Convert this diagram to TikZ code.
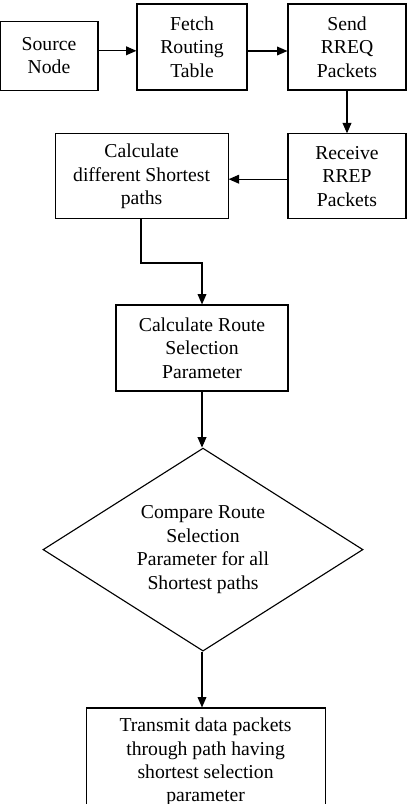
\documentclass[tikz,border=0pt]{standalone}
\usepackage{fontspec}
\setmainfont{Liberation Serif}
\usepackage{tikz}
\usetikzlibrary{shapes.geometric,arrows.meta,positioning,calc}

\begin{document}
\begin{tikzpicture}[>={Triangle[length=2.6mm,width=2.2mm]},
   block/.style={draw,line width=0.8pt,rectangle,align=center,inner sep=2pt,
                 font=\fontsize{14}{16.7}\selectfont},
   decision/.style={draw,line width=0.8pt,diamond,aspect=1.6,align=center,inner sep=0pt,
                 font=\fontsize{14}{16.7}\selectfont},
   every path/.style={line width=0.8pt}]
 \useasboundingbox (0,0) rectangle (10.2,-20.1);
 % top row (explicit coordinates, taken from the layout)
 \node[block,minimum width=2.45cm,minimum height=1.725cm] (src)   at (1.225,-1.39) {Source\\Node};
 \node[block,minimum width=2.75cm,minimum height=2.15cm]  (fetch) at (4.8,-1.175)  {Fetch\\Routing\\Table};
 \node[block,minimum width=2.95cm,minimum height=2.15cm]  (send)  at (8.675,-1.175) {Send\\RREQ\\Packets};
 % second row
 \node[block,minimum width=2.95cm,minimum height=2.125cm] (recv)  at (8.675,-4.41) {Receive\\RREP\\Packets};
 \node[block,minimum width=4.325cm,minimum height=2.125cm] (calc) at (3.54,-4.41)  {Calculate\\different Shortest\\paths};
 % centre column
 \node[block,minimum width=4.3cm,minimum height=2.15cm]   (route) at (5.05,-8.7)   {Calculate Route\\Selection\\Parameter};
 \node[decision,minimum width=8.0cm,minimum height=5.075cm] (cmp) at (5.075,-13.74) {Compare Route\\Selection\\Parameter for all\\Shortest paths};
 \node[block,minimum width=5.975cm,minimum height=2.7cm]  (tx)    at (5.14,-19.05)  {Transmit data packets\\through path having\\shortest selection\\parameter};
 \coordinate (bend) at (3.525,-6.575);   % elbow under calc
 % wires
 \draw[->] ($(src.east)+(0,0.12)$) -- ($(src.east -| fetch.west)+(0,0.12)$);
 \draw[->] ($(fetch.east)+(0,-0.1)$) -- ($(fetch.east -| send.west)+(0,-0.1)$);
 \draw[->] (send) -- (recv);
 \draw[->] ($(recv.west)+(0,-0.07)$) -- ($(recv.west -| calc.east)+(0,-0.07)$);
 \draw[->] (calc.south -| bend) -- (bend) -| (route.north);
 \draw[->] (route) -- (route.south |- cmp.north);
 \draw[->] (route.south |- cmp.south) -- (route.south |- tx.north);
\end{tikzpicture}
\end{document}
